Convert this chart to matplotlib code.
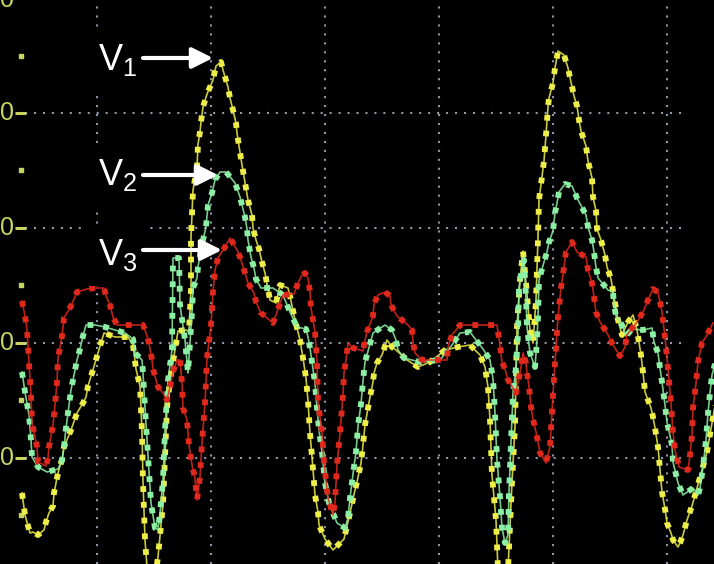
import numpy as np
import matplotlib.pyplot as plt

plt.rcParams['font.family'] = ['Liberation Sans', 'DejaVu Sans']
plt.rcParams['mathtext.fontset'] = 'custom'
plt.rcParams['mathtext.rm'] = 'Liberation Sans'

# scope trace, x = sample index, y = amplitude in ADC counts (115 counts / division)
v1_t = [22, 25, 30, 33, 38, 44, 46, 49, 53, 54, 57, 59, 62, 64, 71, 77, 83, 86, 88, 92,
        98, 104, 115, 128, 133, 136, 140, 142, 143, 145, 148, 154, 158, 163, 165, 167, 170, 175, 178, 185,
        189, 191, 191, 193, 197, 198, 200, 201, 203, 207, 213, 216, 221, 223, 228, 230, 233, 236, 237, 242,
        248, 252, 253, 256, 259, 262, 265, 270, 276, 280, 288, 290, 295, 300, 303, 306, 308, 310, 313, 315,
        318, 319, 325, 333, 344, 350, 355, 357, 361, 363, 365, 368, 370, 373, 374, 377, 382, 387, 392, 396,
        407, 418, 430, 445, 458, 470, 480, 485, 488, 490, 492, 496, 498, 503, 508, 512, 515, 517, 520, 523,
        526, 530, 533, 536, 538, 539, 544, 546, 548, 549, 553, 555, 558, 564, 568, 572, 574, 577, 579, 581,
        586, 588, 592, 593, 596, 597, 601, 605, 607, 611, 614, 618, 622, 628, 633, 637, 641, 643, 645, 651,
        653, 655, 658, 660, 662, 665, 667, 671, 673, 678, 680, 683, 687, 692, 700, 707, 712, 716]
v1_y = [-150, -172, -190, -189, -192, -187, -179, -170, -163, -150, -135, -126, -117, -104, -87, -70, -60, -54, -43, -30,
        -10, 10, 6, 6, -2, -26, -43, -89, -139, -197, -237, -242, -214, -161, -114, -64, -37, -7, 12, 13,
        12, 53, 105, 153, 175, 199, 211, 221, 236, 249, 263, 277, 281, 273, 256, 245, 233, 220, 210, 178,
        143, 128, 115, 103, 94, 81, 70, 43, 40, 58, 55, 47, 23, 3, -15, -35, -58, -90, -126, -152,
        -169, -182, -196, -207, -196, -170, -147, -139, -120, -102, -82, -65, -54, -39, -30, -20, -12, 3, -4, -7,
        -17, -24, -19, -7, -4, -2, -12, -24, -44, -77, -132, -177, -227, -242, -227, -139, -84, 16, 63, 92,
        60, 13, 0, 43, 105, 143, 182, 208, 236, 245, 260, 275, 292, 288, 275, 256, 247, 237, 223, 212,
        197, 182, 165, 146, 132, 114, 103, 88, 76, 64, 46, 23, 8, 21, 28, 13, -12, -29, -49, -65,
        -74, -85, -104, -126, -149, -166, -180, -190, -197, -204, -200, -192, -177, -163, -134, -109, -80, -57]

v2_t = [22, 25, 29, 31, 32, 38, 47, 58, 62, 64, 66, 68, 71, 77, 80, 83, 86, 95, 105, 115,
        125, 133, 135, 142, 143, 145, 148, 151, 155, 158, 160, 163, 165, 168, 172, 173, 179, 180, 185, 188,
        192, 193, 197, 198, 200, 203, 206, 208, 212, 215, 220, 226, 231, 235, 240, 245, 247, 248, 251, 254,
        256, 261, 273, 283, 290, 297, 306, 308, 310, 312, 315, 317, 319, 322, 325, 329, 337, 345, 348, 350,
        353, 356, 358, 361, 363, 365, 373, 385, 392, 396, 398, 404, 420, 440, 452, 460, 470, 476, 483, 490,
        493, 495, 497, 500, 502, 505, 508, 509, 511, 513, 516, 518, 519, 522, 524, 526, 527, 530, 535, 537,
        538, 539, 544, 547, 549, 553, 555, 557, 559, 565, 572, 577, 586, 588, 592, 594, 596, 598, 608, 613,
        614, 616, 622, 626, 632, 643, 652, 654, 658, 660, 662, 665, 667, 672, 673, 678, 683, 693, 698, 700,
        703, 706, 708, 710, 712, 716]
v2_y = [-29, -49, -72, -97, -114, -124, -129, -126, -117, -104, -85, -70, -47, -17, -6, 7, 18, 18, 16, 13,
        10, 4, -10, -17, -30, -65, -113, -160, -185, -187, -170, -137, -87, -37, -7, 85, 85, 38, 3, -30,
        31, 55, 65, 76, 88, 103, 116, 138, 150, 163, 171, 171, 165, 160, 146, 126, 114, 103, 86, 75,
        64, 55, 55, 48, 31, 16, 14, 6, -5, -19, -40, -65, -87, -109, -140, -160, -180, -185, -175, -155,
        -131, -109, -83, -61, -38, -19, 10, 18, 13, 3, -7, -15, -19, -17, -2, 10, 11, 3, -6, -17,
        -36, -70, -117, -154, -185, -200, -192, -150, -99, -50, -24, 9, 55, 75, 83, 45, 16, -10, -24, 3,
        26, 63, 81, 91, 101, 112, 130, 140, 151, 159, 157, 145, 128, 116, 103, 91, 76, 65, 53, 51,
        38, 27, 18, 7, 14, 13, 15, 1, -10, -25, -39, -62, -79, -102, -119, -140, -152, -145, -152, -145,
        -124, -97, -70, -50, -32, -17]

v3_t = [22, 25, 27, 29, 31, 32, 37, 38, 46, 48, 49, 53, 55, 57, 58, 62, 64, 71, 77, 87,
        95, 104, 106, 110, 113, 117, 125, 133, 143, 146, 149, 152, 153, 158, 163, 167, 170, 173, 177, 180,
        182, 183, 187, 189, 192, 195, 197, 200, 202, 205, 207, 211, 213, 215, 218, 225, 230, 237, 240, 245,
        248, 254, 256, 261, 273, 277, 283, 294, 298, 302, 305, 308, 310, 311, 313, 315, 317, 318, 322, 324,
        326, 328, 333, 335, 337, 340, 343, 344, 346, 348, 353, 363, 365, 367, 373, 374, 378, 385, 390, 391,
        397, 408, 412, 413, 415, 422, 447, 448, 452, 460, 497, 500, 502, 505, 508, 516, 518, 520, 523, 526,
        527, 529, 531, 533, 536, 538, 540, 546, 550, 552, 554, 556, 558, 561, 564, 566, 572, 577, 586, 588,
        592, 594, 596, 600, 607, 613, 620, 625, 627, 637, 643, 648, 653, 658, 662, 665, 668, 671, 673, 675,
        679, 688, 690, 692, 693, 696, 698, 702, 707, 713]
v3_y = [42, 27, 14, -20, -52, -80, -104, -119, -123, -115, -104, -82, -62, -39, -15, 7, 25, 37, 51, 54,
        55, 55, 47, 38, 26, 18, 18, 18, 18, 10, 0, -17, -26, -44, -50, -57, -44, -29, -17, -17,
        -40, -65, -77, -102, -122, -135, -157, -134, -100, -60, -15, 18, 51, 73, 85, 96, 105, 93, 86, 70,
        60, 50, 41, 30, 20, 31, 48, 49, 60, 68, 70, 65, 51, 35, 23, 11, -19, -58, -90, -119,
        -137, -155, -172, -159, -122, -90, -52, -30, -17, 0, -5, -8, 3, 11, 27, 39, 48, 51, 47, 38,
        27, 18, 13, 1, -10, -17, -17, -4, 8, 18, 18, -2, -19, -26, -37, -50, -39, -30, -10, -20,
        -30, -43, -64, -76, -89, -99, -110, -120, -104, -70, -35, -4, 26, 55, 76, 91, 101, 91, 86, 73,
        60, 46, 31, 21, 10, -2, -13, -4, 8, 21, 31, 43, 54, 51, 31, 6, -26, -60, -89, -107,
        -124, -127, -112, -92, -65, -40, -19, 0, 8, 20]

series = [
    ('V1', v1_t, v1_y, '#eeee48', 285, 213),
    ('V2', v2_t, v2_y, '#8cf0a4', 168, 218),
    ('V3', v3_t, v3_y, '#e0281c', 93, 222),
]
label_base = {'V1': 273, 'V2': 158, 'V3': 78}

grid_t = [97, 211, 325, 439, 553, 667]
grid_y = [230, 115, 0, -115]
label_y = [343, 230, 115, 0, -115]
minor_y = [287, 173, 58, -57, -172]

fig = plt.figure(figsize=(7.14, 5.64), dpi=100, facecolor='black')
ax = fig.add_axes([0, 0, 1, 1])
ax.set_facecolor('black')
ax.set_xlim(0, 714)
ax.set_ylim(-221, 343)
ax.set_axis_off()

grid_col = '#8e98aa'
ax.vlines(grid_t, -221, 343, colors=grid_col, linestyles=(0, (1, 3.3)), lw=1.5, zorder=1)
ax.hlines(grid_y, 25, 682, colors=grid_col, linestyles=(0, (1, 3.3)), lw=1.5, zorder=1)

# left scale: clipped labels, ticks and half-division dots
tick_col = '#c8d464'
for yv in label_y:
    ax.text(7, yv, '0', color=tick_col, fontsize=18, ha='center', va='center')
ax.hlines(grid_y, 15, 26, colors=tick_col, lw=2.2, zorder=2)
ax.plot([21] * len(minor_y), minor_y, 's', ms=2.5, color=tick_col, zorder=2)

z = 3
for name, t, y, col, ay, ax_end in series:
    ax.plot(t, y, color=col, lw=1.2, alpha=0.85, zorder=z)
    ax.plot(t, y, color=col, lw=4.2, dashes=(1, 1.7), solid_capstyle='butt',
            dash_capstyle='butt', zorder=z + 0.5)
    z += 1
    ax.text(98, label_base[name], r'$\mathregular{V_%s}$' % name[1], color='white', fontsize=26,
            ha='left', va='baseline', zorder=8,
            bbox=dict(boxstyle='square,pad=0.35', fc='black', ec='none'))
    ax.annotate('', xy=(ax_end, ay), xytext=(143, ay), zorder=9,
                arrowprops=dict(arrowstyle='-|>,head_length=0.7,head_width=0.35', color='white',
                                lw=3, mutation_scale=18, shrinkA=0, shrinkB=0))

fig.savefig('out.png', dpi=100, facecolor='black')
